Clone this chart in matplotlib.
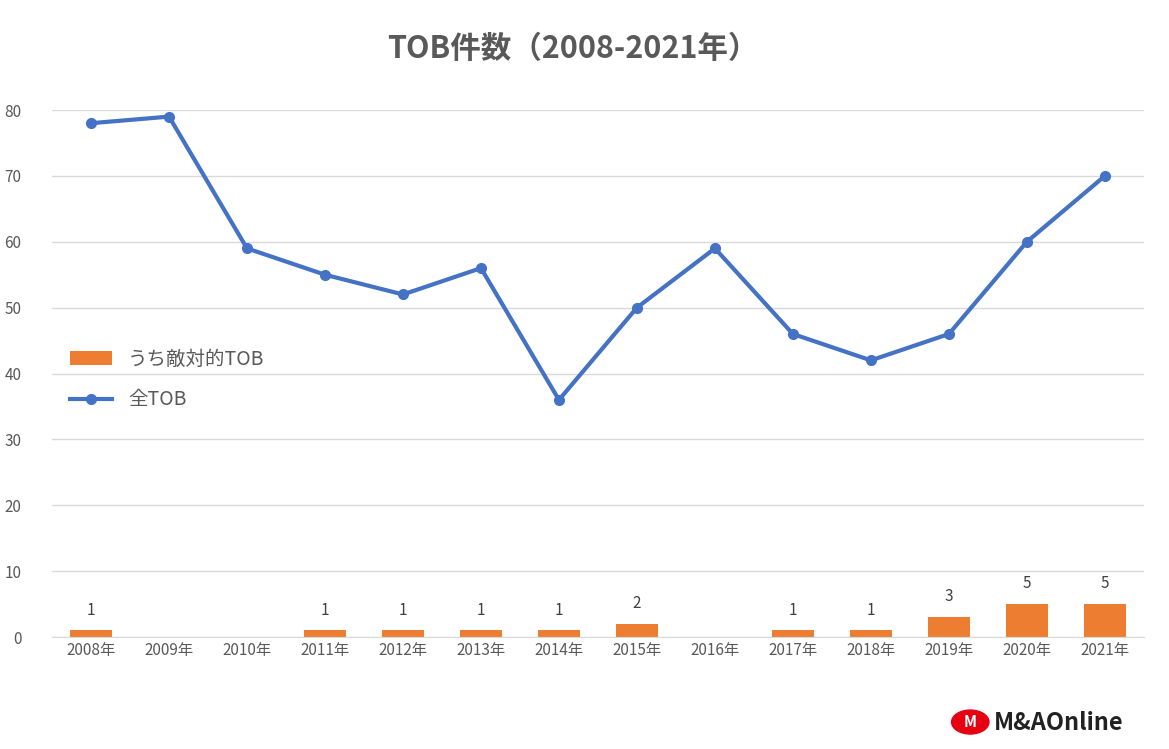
import matplotlib.pyplot as plt
from matplotlib.patches import Circle

years = ['2008年', '2009年', '2010年', '2011年', '2012年', '2013年', '2014年',
         '2015年', '2016年', '2017年', '2018年', '2019年', '2020年', '2021年']
all_tob = [78, 79, 59, 55, 52, 56, 36, 50, 59, 46, 42, 46, 60, 70]
hostile_tob = [1, 0, 0, 1, 1, 1, 1, 2, 0, 1, 1, 3, 5, 5]

plt.rcParams['font.family'] = ['Noto Sans CJK JP']

fig = plt.figure(figsize=(11.69, 7.49), dpi=100)
ax = fig.add_axes([0.0445, 0.1495, 0.934, 0.7036])

x = range(len(years))
bars = ax.bar(x, hostile_tob, width=0.53, color='#ED7D31', label='うち敵対的TOB', zorder=2)
for i, v in enumerate(hostile_tob):
    if v > 0:
        ax.text(i, v + 1.8, str(v), ha='center', va='bottom', fontsize=11, color='#404040')
line, = ax.plot(x, all_tob, color='#4472C4', lw=3, marker='o', ms=7, label='全TOB', zorder=3)

ax.set_xlim(-0.5, len(years) - 0.5)
ax.set_ylim(0, 80)
ax.set_yticks(range(0, 81, 10))
ax.set_xticks(list(x))
ax.set_xticklabels(years)
ax.tick_params(length=0, labelsize=11, colors='#595959')
ax.tick_params(axis='y', pad=22)
ax.grid(axis='y', color='#D9D9D9', lw=1)
ax.set_axisbelow(True)
for s in ['top', 'right', 'left']:
    ax.spines[s].set_visible(False)
ax.spines['bottom'].set_color('#D9D9D9')

fig.text(0.49, 0.935, 'TOB件数（2008-2021年）', ha='center', va='center',
         fontsize=22, fontweight='bold', color='#595959')

leg = ax.legend([bars, line], ['うち敵対的TOB', '全TOB'], loc='upper left',
                bbox_to_anchor=(0.0, 0.58), frameon=False,
                fontsize=14, labelcolor='#595959', handlelength=2.2,
                labelspacing=1.0)

# logo
fig.text(0.85, 0.035, 'M&AOnline', ha='left', va='center', fontsize=17,
         fontweight='bold', color='#222222')
fig.patches.append(Circle((0.830, 0.036), 0.016, transform=fig.transFigure,
                          color='#E60012', figure=fig))
fig.text(0.830, 0.036, 'M', ha='center', va='center', fontsize=11,
         fontweight='bold', color='white')

fig.savefig('out.png', dpi=100)
